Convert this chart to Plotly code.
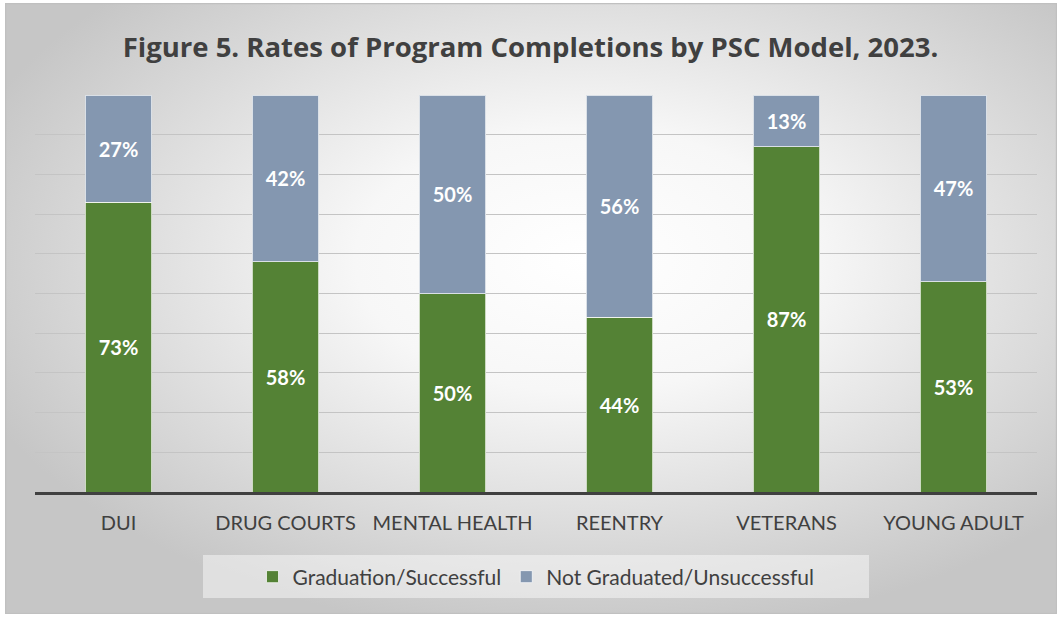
import base64
import plotly.graph_objects as go

categories = ["DUI", "DRUG COURTS", "MENTAL HEALTH", "REENTRY", "VETERANS", "YOUNG ADULT"]
graduated = [73, 58, 50, 44, 87, 53]
not_graduated = [27, 42, 50, 56, 13, 47]
series_names = ["Graduation/Successful", "Not Graduated/Unsuccessful"]
title_text = "Figure 5. Rates of Program Completions by PSC Model, 2023."

W, H = 1061, 617
ML, MR, MT, MB = 35, 24, 95, 125
PW, PH = W - ML - MR, H - MT - MB

def px2x(px):
    return (px - ML) / PW

def py2y(py):
    return (H - MB - py) / PH

svg = (
    '<svg xmlns="http://www.w3.org/2000/svg" width="1052" height="611" viewBox="0 0 1052 611" preserveAspectRatio="none">'
    '<defs><radialGradient id="g" cx="0.55" cy="0.42" r="0.62">'
    '<stop offset="0" stop-color="#ffffff"/>'
    '<stop offset="0.35" stop-color="#f7f7f7"/>'
    '<stop offset="1" stop-color="#c6c6c6"/>'
    '</radialGradient></defs>'
    '<rect x="0.5" y="0.5" width="1051" height="610" fill="url(#g)" stroke="#c0c0c0" stroke-width="1.5"/>'
    '</svg>'
)
src = "data:image/svg+xml;base64," + base64.b64encode(svg.encode()).decode()

fig = go.Figure()
colors = ["#548235", "#8497B0"]
for name, vals, col in zip(series_names, [graduated, not_graduated], colors):
    fig.add_trace(go.Bar(
        x=categories, y=vals, name=name,
        marker=dict(color=col, line=dict(color="rgba(255,255,255,0.7)", width=1)),
        text=vals, texttemplate="%{text}%", textposition="inside",
        insidetextanchor="middle",
        textfont=dict(family="Lato", size=20, color="white", weight="bold"),
    ))

fig.update_layout(
    width=W, height=H,
    margin=dict(l=ML, r=MR, t=MT, b=MB),
    barmode="stack", bargap=0.6,
    paper_bgcolor="white", plot_bgcolor="rgba(0,0,0,0)",
    title=dict(text="<b>" + title_text + "</b>", x=0.5, xanchor="center",
               y=1 - 47 / H, yanchor="middle",
               font=dict(family="Open Sans", size=27.5, color="#404040")),
    xaxis=dict(showline=True, linecolor="#404040", linewidth=2.5,
               tickfont=dict(family="Lato", size=20, color="#404040"),
               ticks="outside", ticklen=11, tickcolor="rgba(0,0,0,0)", showgrid=False),
    yaxis=dict(range=[0, 100], dtick=10, showticklabels=False, showgrid=True,
               gridcolor="#c4c4c4", gridwidth=1, zeroline=False, showline=False),
    showlegend=True,
    legend=dict(orientation="h", x=0.5, xanchor="center", y=py2y(577), yanchor="middle",
                bgcolor="rgba(0,0,0,0)", font=dict(family="Lato", size=21, color="#404040"),
                traceorder="normal"),
    images=[dict(source=src, xref="paper", yref="paper", x=px2x(5), y=py2y(3),
                 sizex=(1057 - 5) / PW, sizey=(614 - 3) / PH, sizing="stretch",
                 xanchor="left", yanchor="top", layer="below")],
    shapes=[dict(type="rect", xref="paper", yref="paper", x0=px2x(203), x1=px2x(869),
                 y0=py2y(598), y1=py2y(555), fillcolor="rgba(255,255,255,0.45)",
                 line=dict(width=0), layer="below")],
)

fig.write_html("out.html", config={"displayModeBar": False},
               post_script="document.body.style.margin='0';document.body.style.overflow='hidden';")
